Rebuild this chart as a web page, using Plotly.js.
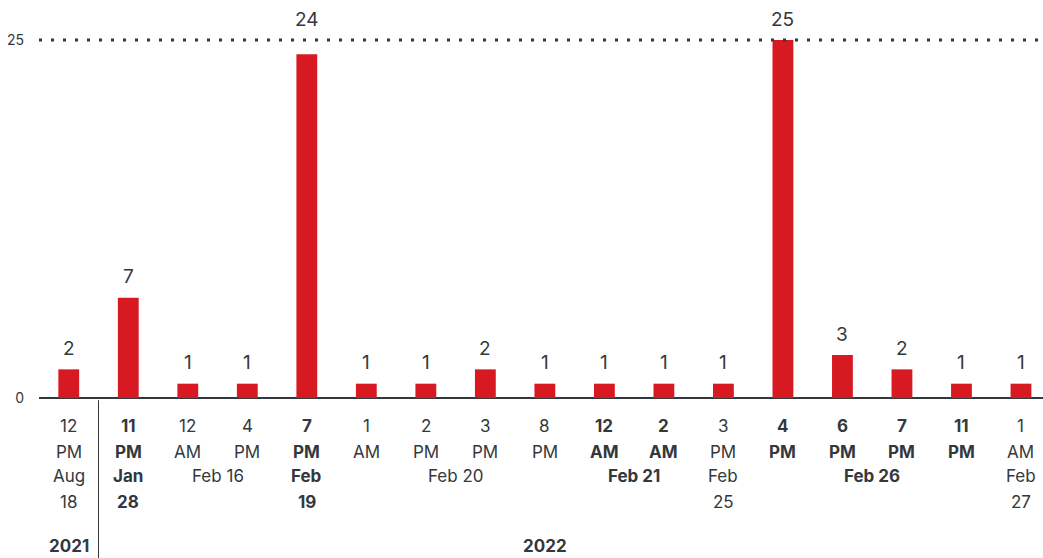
<!DOCTYPE html>
<html>
<head>
<meta charset="utf-8">
<script src="https://cdn.plot.ly/plotly-3.0.1.min.js"></script>
<style>
html,body{margin:0;padding:0;background:#fff;}
#chart{width:1043px;height:558px;}
</style>
</head>
<body>
<div id="chart"></div>
<script>
const values = [2, 7, 1, 1, 24, 1, 1, 2, 1, 1, 1, 1, 25, 3, 2, 1, 1];
const hours  = ['12','11','12','4','7','1','2','3','8','12','2','3','4','6','7','11','1'];
const ampm   = ['PM','PM','AM','PM','PM','AM','PM','PM','PM','AM','AM','PM','PM','PM','PM','PM','AM'];
const boldHour = [0,1,0,0,1,0,0,0,0,1,1,0,1,1,1,1,0];

const dateLabels = ['Aug<br>18','Jan<br>28','Feb 16','Feb<br>19','Feb 20','Feb 21','Feb<br>25','Feb 26','Feb<br>27'];
const dateFrom   = [0, 1, 2, 4, 5, 9, 11, 12, 16];
const dateTo     = [0, 1, 3, 4, 8, 10, 11, 15, 16];
const dateBold   = [0, 1, 0, 1, 0, 1, 0, 1, 0];

const years   = ['2021', '2022'];
const yearAt  = [0, 8];
const yearSplit = [0.5];

const yTicks = [0, 25];

const TXT = '#33383d';
const RED = '#d71a21';
const FONT = 'Inter, "Open Sans", sans-serif';

const x = values.map((_, i) => i);

const annotations = [];
// value labels
values.forEach((v, i) => {
  const yy = v >= 24 ? 25 : v;
  annotations.push({x: i, y: yy, xref: 'x', yref: 'y', text: String(v), showarrow: false,
    yanchor: 'middle', yshift: 21, font: {family: FONT, size: 19, color: TXT}});
});
function b(t, on) { return on ? '<b>' + t + '</b>' : t; }
// hour labels
hours.forEach((h, i) => {
  annotations.push({x: i, y: 0, xref: 'x', yref: 'y', text: b(h, boldHour[i]), showarrow: false,
    yanchor: 'middle', yshift: -28, font: {family: FONT, size: 17, color: TXT}});
  annotations.push({x: i, y: 0, xref: 'x', yref: 'y', text: b(ampm[i], boldHour[i]), showarrow: false,
    yanchor: 'middle', yshift: -54, font: {family: FONT, size: 17, color: TXT}});
});
// date labels
dateLabels.forEach((d, k) => {
  const parts = d.split('<br>');
  const cx = (dateFrom[k] + dateTo[k]) / 2;
  parts.forEach((p, j) => {
    annotations.push({x: cx, y: 0, xref: 'x', yref: 'y', text: b(p, dateBold[k]), showarrow: false,
      yanchor: 'middle', yshift: -78 - 26 * j, font: {family: FONT, size: 17, color: TXT}});
  });
});
// years
years.forEach((yr, k) => {
  annotations.push({x: yearAt[k], y: 0, xref: 'x', yref: 'y', text: '<b>' + yr + '</b>', showarrow: false,
    yanchor: 'middle', yshift: -148, font: {family: FONT, size: 17, color: TXT}});
});

const shapes = yearSplit.map(s => ({type: 'line', xref: 'x', yref: 'paper', x0: s, x1: s,
  y0: -0.006, y1: -0.46, line: {color: TXT, width: 1}}));
// dotted reference line at top tick
yTicks.filter(t => t > 0).forEach(t => {
  shapes.push({type: 'line', xref: 'paper', yref: 'y', x0: 0, x1: 1, y0: t, y1: t,
    line: {color: TXT, width: 3, dash: '3px,9px'}, layer: 'above'});
});

const data = [{
  type: 'bar', x: x, y: values, width: 0.35,
  marker: {color: RED, line: {width: 0}},
  hoverinfo: 'skip'
}];

const layout = {
  width: 1043, height: 558,
  margin: {l: 39, r: 0, t: 36, b: 160},
  paper_bgcolor: '#fff', plot_bgcolor: '#fff',
  showlegend: false,
  font: {family: FONT, color: TXT},
  xaxis: {range: [-0.5, 16.37], showticklabels: false, showgrid: false, zeroline: false, showline: false, ticks: '', fixedrange: true},
  yaxis: {range: [0, 25.28], tickvals: yTicks, ticktext: yTicks.map(String), showgrid: false,
    zeroline: true, zerolinecolor: TXT, zerolinewidth: 2.5,
    ticks: '', ticklabelstandoff: 14, tickfont: {family: FONT, size: 14, color: TXT}, fixedrange: true},
  annotations: annotations,
  shapes: shapes
};

Plotly.newPlot('chart', data, layout, {displayModeBar: false, staticPlot: true});
</script>
</body>
</html>
